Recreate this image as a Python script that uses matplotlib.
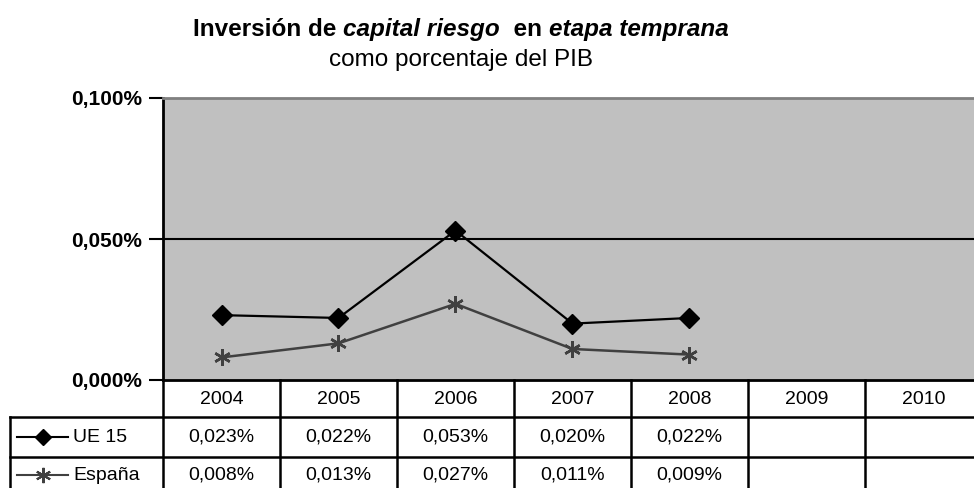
import matplotlib
matplotlib.use("Agg")
import matplotlib.pyplot as plt

# datos
years = ["2004", "2005", "2006", "2007", "2008", "2009", "2010"]
ue15 = [0.023, 0.022, 0.053, 0.020, 0.022]
espana = [0.008, 0.013, 0.027, 0.011, 0.009]
series_names = ["UE 15", "España"]
ytick_vals = [0.0, 0.05, 0.1]
ytick_labels = ["0,000%", "0,050%", "0,100%"]

plt.rcParams["font.family"] = ["Liberation Sans", "DejaVu Sans"]
W, H = 974, 488
fig = plt.figure(figsize=(W / 100, H / 100), dpi=100)

def px(x0, y0, x1, y1):
    # caja en pixeles (origen arriba-izquierda) -> fraccion de figura
    return [x0 / W, 1 - y1 / H, (x1 - x0) / W, (y1 - y0) / H]

ncol = len(years)
col_w = 117.0
left_w = 153.0 / col_w

# grafico
ax = fig.add_axes(px(163, 98, 163 + col_w * ncol, 380))
ax.set_facecolor("#c0c0c0")
ax.plot([i + 0.5 for i in range(len(ue15))], ue15, color="black", lw=1.6,
        marker="D", ms=10, mfc="black", mec="black", zorder=3)
ax.plot([i + 0.5 for i in range(len(espana))], espana, color="#404040", lw=1.8,
        marker=(6, 2, 0), ms=12, mew=1.8, mec="#404040", zorder=3)
ax.set_xlim(0, ncol)
ax.set_ylim(0, 0.1)
ax.set_xticks([])
ax.set_yticks(ytick_vals)
ax.set_yticklabels(ytick_labels, fontsize=15, fontweight="bold")
ax.tick_params(axis="y", direction="out", length=10, width=1.5, pad=5)
ax.axhline(0.05, color="black", lw=1.5)
for s in ["left", "bottom", "right"]:
    ax.spines[s].set_linewidth(2)
ax.spines["top"].set_color("#808080")
ax.spines["top"].set_linewidth(2)

# tabla de datos
tx = fig.add_axes(px(10, 380, 163 + col_w * ncol, 497))
tx.set_xlim(-left_w, ncol)
tx.set_ylim(117, 0)
tx.axis("off")
lk = dict(color="black", lw=1.8, clip_on=False)
for i in range(ncol + 1):
    tx.plot([i, i], [0, 117], **lk)
tx.plot([-left_w, -left_w], [37, 117], **lk)
for r in [37, 77, 117]:
    tx.plot([-left_w, ncol], [r, r], **lk)
for i, y in enumerate(years):
    tx.text(i + 0.5, 20, y, ha="center", va="center", fontsize=14)
row_y = [57, 95]
for r, vals in enumerate([ue15, espana]):
    for i, v in enumerate(vals):
        tx.text(i + 0.5, row_y[r], ("%.3f%%" % v).replace(".", ","),
                ha="center", va="center", fontsize=14)

# leyenda dentro de la tabla
lx0, lx1 = -left_w + 7 / col_w, -left_w + 58 / col_w
lmid = -left_w + 33 / col_w
tx.plot([lx0, lx1], [row_y[0]] * 2, color="black", lw=1.5)
tx.plot([lmid], [row_y[0]], marker="D", color="black", ms=8)
tx.plot([lx0, lx1], [row_y[1]] * 2, color="#404040", lw=1.5)
tx.plot([lmid], [row_y[1]], marker=(6, 2, 0), color="#404040", ms=11, mew=1.5)
for r, name in enumerate(series_names):
    tx.text(lx1 + 5 / col_w, row_y[r], name, ha="left", va="center", fontsize=14)

# titulo con partes en cursiva
parts = [("Inversión de ", "normal"), ("capital riesgo", "italic"),
         ("  en ", "normal"), ("etapa temprana", "italic")]
renderer = fig.canvas.get_renderer()
texts = []
for s, st in parts:
    t = fig.text(0, 1 - 36 / H, s, fontsize=17.5, fontweight="bold", style=st,
                 va="baseline", ha="left")
    texts.append(t)
widths = [t.get_window_extent(renderer).width for t in texts]
x = 461 - sum(widths) / 2
for t, w in zip(texts, widths):
    t.set_x(x / W)
    x += w
fig.text(461 / W, 1 - 66 / H, "como porcentaje del PIB", fontsize=17.5,
         ha="center", va="baseline")

fig.savefig("out.png", dpi=100)
